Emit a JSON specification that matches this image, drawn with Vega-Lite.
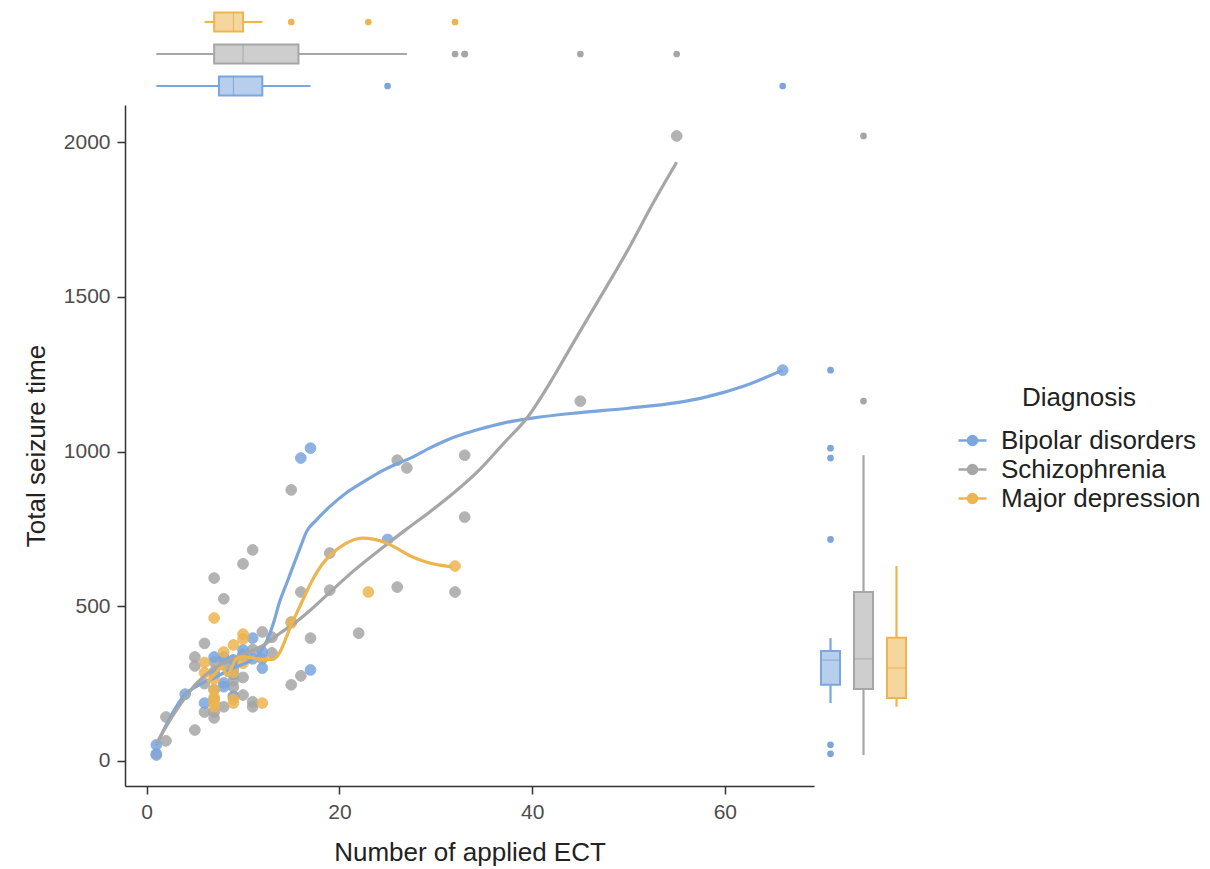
{
  "$schema": "https://vega.github.io/schema/vega-lite/v6.json",
  "background": "white",
  "padding": {"left": 23, "top": 6, "right": 5, "bottom": 3},
  "config": {
    "font": "Liberation Sans",
    "view": {"stroke": null},
    "axis": {"grid": false, "domainColor": "#333333", "tickColor": "#333333", "domainWidth": 1.5, "tickWidth": 1.5, "labelColor": "#4d4d4d", "titleColor": "#222222", "labelFontSize": 21, "titleFontSize": 26, "titleFontWeight": "normal", "tickSize": 8, "labelPadding": 7}
  },
  "datasets": {
    "pts": [
      {"Diagnosis": "Schizophrenia", "ECT": 1, "Seizure": 19},
      {"Diagnosis": "Schizophrenia", "ECT": 2, "Seizure": 65},
      {"Diagnosis": "Schizophrenia", "ECT": 2, "Seizure": 142},
      {"Diagnosis": "Schizophrenia", "ECT": 5, "Seizure": 100},
      {"Diagnosis": "Schizophrenia", "ECT": 5, "Seizure": 336},
      {"Diagnosis": "Schizophrenia", "ECT": 5, "Seizure": 307},
      {"Diagnosis": "Schizophrenia", "ECT": 6, "Seizure": 158},
      {"Diagnosis": "Schizophrenia", "ECT": 7, "Seizure": 158},
      {"Diagnosis": "Schizophrenia", "ECT": 7, "Seizure": 139},
      {"Diagnosis": "Schizophrenia", "ECT": 7, "Seizure": 288},
      {"Diagnosis": "Schizophrenia", "ECT": 7, "Seizure": 591},
      {"Diagnosis": "Schizophrenia", "ECT": 8, "Seizure": 524},
      {"Diagnosis": "Schizophrenia", "ECT": 8, "Seizure": 175},
      {"Diagnosis": "Schizophrenia", "ECT": 9, "Seizure": 239},
      {"Diagnosis": "Schizophrenia", "ECT": 10, "Seizure": 213},
      {"Diagnosis": "Schizophrenia", "ECT": 10, "Seizure": 637},
      {"Diagnosis": "Schizophrenia", "ECT": 11, "Seizure": 682},
      {"Diagnosis": "Schizophrenia", "ECT": 11, "Seizure": 191},
      {"Diagnosis": "Schizophrenia", "ECT": 11, "Seizure": 175},
      {"Diagnosis": "Schizophrenia", "ECT": 12, "Seizure": 417},
      {"Diagnosis": "Schizophrenia", "ECT": 13, "Seizure": 400},
      {"Diagnosis": "Schizophrenia", "ECT": 13, "Seizure": 349},
      {"Diagnosis": "Schizophrenia", "ECT": 15, "Seizure": 876},
      {"Diagnosis": "Schizophrenia", "ECT": 15, "Seizure": 449},
      {"Diagnosis": "Schizophrenia", "ECT": 15, "Seizure": 246},
      {"Diagnosis": "Schizophrenia", "ECT": 16, "Seizure": 546},
      {"Diagnosis": "Schizophrenia", "ECT": 16, "Seizure": 275},
      {"Diagnosis": "Schizophrenia", "ECT": 17, "Seizure": 397},
      {"Diagnosis": "Schizophrenia", "ECT": 19, "Seizure": 552},
      {"Diagnosis": "Schizophrenia", "ECT": 19, "Seizure": 672},
      {"Diagnosis": "Schizophrenia", "ECT": 22, "Seizure": 413},
      {"Diagnosis": "Schizophrenia", "ECT": 26, "Seizure": 972},
      {"Diagnosis": "Schizophrenia", "ECT": 26, "Seizure": 562},
      {"Diagnosis": "Schizophrenia", "ECT": 27, "Seizure": 947},
      {"Diagnosis": "Schizophrenia", "ECT": 32, "Seizure": 546},
      {"Diagnosis": "Schizophrenia", "ECT": 33, "Seizure": 988},
      {"Diagnosis": "Schizophrenia", "ECT": 33, "Seizure": 788},
      {"Diagnosis": "Schizophrenia", "ECT": 45, "Seizure": 1163},
      {"Diagnosis": "Schizophrenia", "ECT": 55, "Seizure": 2020},
      {"Diagnosis": "Schizophrenia", "ECT": 8, "Seizure": 330},
      {"Diagnosis": "Schizophrenia", "ECT": 9, "Seizure": 300},
      {"Diagnosis": "Schizophrenia", "ECT": 9, "Seizure": 326},
      {"Diagnosis": "Schizophrenia", "ECT": 7, "Seizure": 320},
      {"Diagnosis": "Schizophrenia", "ECT": 8, "Seizure": 310},
      {"Diagnosis": "Schizophrenia", "ECT": 9, "Seizure": 210},
      {"Diagnosis": "Schizophrenia", "ECT": 10, "Seizure": 270},
      {"Diagnosis": "Schizophrenia", "ECT": 7, "Seizure": 200},
      {"Diagnosis": "Schizophrenia", "ECT": 7, "Seizure": 230},
      {"Diagnosis": "Schizophrenia", "ECT": 6, "Seizure": 250},
      {"Diagnosis": "Schizophrenia", "ECT": 9, "Seizure": 260},
      {"Diagnosis": "Schizophrenia", "ECT": 12, "Seizure": 330},
      {"Diagnosis": "Schizophrenia", "ECT": 10, "Seizure": 340},
      {"Diagnosis": "Schizophrenia", "ECT": 11, "Seizure": 360},
      {"Diagnosis": "Schizophrenia", "ECT": 6, "Seizure": 380},
      {"Diagnosis": "Bipolar disorders", "ECT": 66, "Seizure": 1263},
      {"Diagnosis": "Bipolar disorders", "ECT": 17, "Seizure": 1011},
      {"Diagnosis": "Bipolar disorders", "ECT": 16, "Seizure": 979},
      {"Diagnosis": "Bipolar disorders", "ECT": 25, "Seizure": 716},
      {"Diagnosis": "Bipolar disorders", "ECT": 17, "Seizure": 294},
      {"Diagnosis": "Bipolar disorders", "ECT": 1, "Seizure": 52},
      {"Diagnosis": "Bipolar disorders", "ECT": 1, "Seizure": 23},
      {"Diagnosis": "Bipolar disorders", "ECT": 4, "Seizure": 216},
      {"Diagnosis": "Bipolar disorders", "ECT": 6, "Seizure": 187},
      {"Diagnosis": "Bipolar disorders", "ECT": 7, "Seizure": 336},
      {"Diagnosis": "Bipolar disorders", "ECT": 8, "Seizure": 336},
      {"Diagnosis": "Bipolar disorders", "ECT": 9, "Seizure": 326},
      {"Diagnosis": "Bipolar disorders", "ECT": 10, "Seizure": 359},
      {"Diagnosis": "Bipolar disorders", "ECT": 11, "Seizure": 397},
      {"Diagnosis": "Bipolar disorders", "ECT": 12, "Seizure": 352},
      {"Diagnosis": "Bipolar disorders", "ECT": 8, "Seizure": 252},
      {"Diagnosis": "Bipolar disorders", "ECT": 8, "Seizure": 240},
      {"Diagnosis": "Bipolar disorders", "ECT": 9, "Seizure": 207},
      {"Diagnosis": "Bipolar disorders", "ECT": 10, "Seizure": 345},
      {"Diagnosis": "Bipolar disorders", "ECT": 11, "Seizure": 330},
      {"Diagnosis": "Bipolar disorders", "ECT": 12, "Seizure": 300},
      {"Diagnosis": "Bipolar disorders", "ECT": 9, "Seizure": 280},
      {"Diagnosis": "Bipolar disorders", "ECT": 7, "Seizure": 280},
      {"Diagnosis": "Major depression", "ECT": 32, "Seizure": 630},
      {"Diagnosis": "Major depression", "ECT": 23, "Seizure": 546},
      {"Diagnosis": "Major depression", "ECT": 15, "Seizure": 446},
      {"Diagnosis": "Major depression", "ECT": 7, "Seizure": 462},
      {"Diagnosis": "Major depression", "ECT": 10, "Seizure": 410},
      {"Diagnosis": "Major depression", "ECT": 10, "Seizure": 394},
      {"Diagnosis": "Major depression", "ECT": 9, "Seizure": 375},
      {"Diagnosis": "Major depression", "ECT": 8, "Seizure": 352},
      {"Diagnosis": "Major depression", "ECT": 6, "Seizure": 318},
      {"Diagnosis": "Major depression", "ECT": 10, "Seizure": 316},
      {"Diagnosis": "Major depression", "ECT": 6, "Seizure": 285},
      {"Diagnosis": "Major depression", "ECT": 9, "Seizure": 285},
      {"Diagnosis": "Major depression", "ECT": 7, "Seizure": 265},
      {"Diagnosis": "Major depression", "ECT": 7, "Seizure": 230},
      {"Diagnosis": "Major depression", "ECT": 7, "Seizure": 205},
      {"Diagnosis": "Major depression", "ECT": 7, "Seizure": 190},
      {"Diagnosis": "Major depression", "ECT": 7, "Seizure": 175},
      {"Diagnosis": "Major depression", "ECT": 9, "Seizure": 187},
      {"Diagnosis": "Major depression", "ECT": 12, "Seizure": 187},
      {"Diagnosis": "Major depression", "ECT": 9, "Seizure": 200}
    ],
    "curves": [
      {"Diagnosis": "Bipolar disorders", "ECT": 1, "Seizure": 50},
      {"Diagnosis": "Bipolar disorders", "ECT": 2, "Seizure": 115},
      {"Diagnosis": "Bipolar disorders", "ECT": 3, "Seizure": 172},
      {"Diagnosis": "Bipolar disorders", "ECT": 4, "Seizure": 215},
      {"Diagnosis": "Bipolar disorders", "ECT": 5, "Seizure": 238},
      {"Diagnosis": "Bipolar disorders", "ECT": 6, "Seizure": 255},
      {"Diagnosis": "Bipolar disorders", "ECT": 7, "Seizure": 268},
      {"Diagnosis": "Bipolar disorders", "ECT": 8, "Seizure": 285},
      {"Diagnosis": "Bipolar disorders", "ECT": 9, "Seizure": 300},
      {"Diagnosis": "Bipolar disorders", "ECT": 10, "Seizure": 313},
      {"Diagnosis": "Bipolar disorders", "ECT": 11, "Seizure": 328},
      {"Diagnosis": "Bipolar disorders", "ECT": 11.7, "Seizure": 348},
      {"Diagnosis": "Bipolar disorders", "ECT": 12.5, "Seizure": 390},
      {"Diagnosis": "Bipolar disorders", "ECT": 13.2, "Seizure": 450},
      {"Diagnosis": "Bipolar disorders", "ECT": 13.8, "Seizure": 515},
      {"Diagnosis": "Bipolar disorders", "ECT": 14.5, "Seizure": 572},
      {"Diagnosis": "Bipolar disorders", "ECT": 15.2, "Seizure": 630},
      {"Diagnosis": "Bipolar disorders", "ECT": 16, "Seizure": 695},
      {"Diagnosis": "Bipolar disorders", "ECT": 16.6, "Seizure": 742},
      {"Diagnosis": "Bipolar disorders", "ECT": 17.5, "Seizure": 775},
      {"Diagnosis": "Bipolar disorders", "ECT": 19, "Seizure": 822},
      {"Diagnosis": "Bipolar disorders", "ECT": 20.7, "Seizure": 866},
      {"Diagnosis": "Bipolar disorders", "ECT": 22.5, "Seizure": 902},
      {"Diagnosis": "Bipolar disorders", "ECT": 24.1, "Seizure": 932},
      {"Diagnosis": "Bipolar disorders", "ECT": 25.8, "Seizure": 958},
      {"Diagnosis": "Bipolar disorders", "ECT": 27.6, "Seizure": 982},
      {"Diagnosis": "Bipolar disorders", "ECT": 29.3, "Seizure": 1010},
      {"Diagnosis": "Bipolar disorders", "ECT": 31, "Seizure": 1035},
      {"Diagnosis": "Bipolar disorders", "ECT": 33, "Seizure": 1058},
      {"Diagnosis": "Bipolar disorders", "ECT": 34.5, "Seizure": 1072},
      {"Diagnosis": "Bipolar disorders", "ECT": 37, "Seizure": 1092},
      {"Diagnosis": "Bipolar disorders", "ECT": 40, "Seizure": 1108},
      {"Diagnosis": "Bipolar disorders", "ECT": 45, "Seizure": 1126},
      {"Diagnosis": "Bipolar disorders", "ECT": 50, "Seizure": 1140},
      {"Diagnosis": "Bipolar disorders", "ECT": 55, "Seizure": 1158},
      {"Diagnosis": "Bipolar disorders", "ECT": 58, "Seizure": 1176},
      {"Diagnosis": "Bipolar disorders", "ECT": 62, "Seizure": 1212},
      {"Diagnosis": "Bipolar disorders", "ECT": 66, "Seizure": 1263},
      {"Diagnosis": "Schizophrenia", "ECT": 1, "Seizure": 55},
      {"Diagnosis": "Schizophrenia", "ECT": 2, "Seizure": 110},
      {"Diagnosis": "Schizophrenia", "ECT": 3, "Seizure": 160},
      {"Diagnosis": "Schizophrenia", "ECT": 4, "Seizure": 205},
      {"Diagnosis": "Schizophrenia", "ECT": 5, "Seizure": 245},
      {"Diagnosis": "Schizophrenia", "ECT": 6, "Seizure": 275},
      {"Diagnosis": "Schizophrenia", "ECT": 7, "Seizure": 298},
      {"Diagnosis": "Schizophrenia", "ECT": 8.6, "Seizure": 326},
      {"Diagnosis": "Schizophrenia", "ECT": 10, "Seizure": 345},
      {"Diagnosis": "Schizophrenia", "ECT": 12, "Seizure": 372},
      {"Diagnosis": "Schizophrenia", "ECT": 13.8, "Seizure": 412},
      {"Diagnosis": "Schizophrenia", "ECT": 15.5, "Seizure": 449},
      {"Diagnosis": "Schizophrenia", "ECT": 17, "Seizure": 488},
      {"Diagnosis": "Schizophrenia", "ECT": 19, "Seizure": 545},
      {"Diagnosis": "Schizophrenia", "ECT": 21.5, "Seizure": 615},
      {"Diagnosis": "Schizophrenia", "ECT": 24.5, "Seizure": 690},
      {"Diagnosis": "Schizophrenia", "ECT": 27, "Seizure": 750},
      {"Diagnosis": "Schizophrenia", "ECT": 29.3, "Seizure": 803},
      {"Diagnosis": "Schizophrenia", "ECT": 32, "Seizure": 870},
      {"Diagnosis": "Schizophrenia", "ECT": 34.5, "Seizure": 940},
      {"Diagnosis": "Schizophrenia", "ECT": 37, "Seizure": 1025},
      {"Diagnosis": "Schizophrenia", "ECT": 39.5, "Seizure": 1110},
      {"Diagnosis": "Schizophrenia", "ECT": 42, "Seizure": 1230},
      {"Diagnosis": "Schizophrenia", "ECT": 43.5, "Seizure": 1310},
      {"Diagnosis": "Schizophrenia", "ECT": 45, "Seizure": 1390},
      {"Diagnosis": "Schizophrenia", "ECT": 47, "Seizure": 1495},
      {"Diagnosis": "Schizophrenia", "ECT": 50, "Seizure": 1655},
      {"Diagnosis": "Schizophrenia", "ECT": 52.5, "Seizure": 1800},
      {"Diagnosis": "Schizophrenia", "ECT": 55, "Seizure": 1935},
      {"Diagnosis": "Major depression", "ECT": 6.3, "Seizure": 255},
      {"Diagnosis": "Major depression", "ECT": 7, "Seizure": 278},
      {"Diagnosis": "Major depression", "ECT": 7.9, "Seizure": 304},
      {"Diagnosis": "Major depression", "ECT": 8.3, "Seizure": 276},
      {"Diagnosis": "Major depression", "ECT": 8.8, "Seizure": 300},
      {"Diagnosis": "Major depression", "ECT": 9.3, "Seizure": 330},
      {"Diagnosis": "Major depression", "ECT": 10, "Seizure": 337},
      {"Diagnosis": "Major depression", "ECT": 11, "Seizure": 333},
      {"Diagnosis": "Major depression", "ECT": 12, "Seizure": 328},
      {"Diagnosis": "Major depression", "ECT": 13, "Seizure": 328},
      {"Diagnosis": "Major depression", "ECT": 13.8, "Seizure": 350},
      {"Diagnosis": "Major depression", "ECT": 14.3, "Seizure": 385},
      {"Diagnosis": "Major depression", "ECT": 15, "Seizure": 440},
      {"Diagnosis": "Major depression", "ECT": 15.6, "Seizure": 480},
      {"Diagnosis": "Major depression", "ECT": 16.2, "Seizure": 520},
      {"Diagnosis": "Major depression", "ECT": 17.2, "Seizure": 585},
      {"Diagnosis": "Major depression", "ECT": 18.2, "Seizure": 635},
      {"Diagnosis": "Major depression", "ECT": 19.3, "Seizure": 672},
      {"Diagnosis": "Major depression", "ECT": 20.5, "Seizure": 700},
      {"Diagnosis": "Major depression", "ECT": 21.5, "Seizure": 715},
      {"Diagnosis": "Major depression", "ECT": 22.4, "Seizure": 720},
      {"Diagnosis": "Major depression", "ECT": 23.5, "Seizure": 717},
      {"Diagnosis": "Major depression", "ECT": 24.9, "Seizure": 704},
      {"Diagnosis": "Major depression", "ECT": 26.2, "Seizure": 683},
      {"Diagnosis": "Major depression", "ECT": 27.6, "Seizure": 659},
      {"Diagnosis": "Major depression", "ECT": 29, "Seizure": 643},
      {"Diagnosis": "Major depression", "ECT": 30.4, "Seizure": 633},
      {"Diagnosis": "Major depression", "ECT": 31.7, "Seizure": 628}
    ]
  },
  "columns": 2,
  "align": "each",
  "bounds": "flush",
  "spacing": {"row": 3, "column": 0},
  "resolve": {"scale": {"fill": "independent", "stroke": "independent"}, "legend": {"fill": "independent", "stroke": "independent"}},
  "concat": [
    {
      "width": 689,
      "height": 96,
      "data": {"name": "pts"},
      "encoding": {
        "x": {"field": "ECT", "type": "quantitative", "scale": {"domain": [-2.25, 69.25], "nice": false, "zero": false}, "axis": null},
        "y": {"field": "Diagnosis", "type": "nominal", "scale": {"domain": ["Major depression", "Schizophrenia", "Bipolar disorders"], "paddingInner": 0, "paddingOuter": 0}, "axis": null}
      },
      "layer": [
        {
          "transform": [{"filter": {"field": "Diagnosis", "equal": "Major depression"}}],
          "mark": {"type": "boxplot", "extent": 1.5, "size": 19, "ticks": false,
            "box": {"fill": "#EDB54F", "fillOpacity": 0.55, "stroke": "#EDB54F", "strokeWidth": 2},
            "median": {"color": "#E3A93F", "strokeWidth": 2},
            "rule": {"color": "#EDB54F", "strokeWidth": 2.2},
            "outliers": {"color": "#EDB54F", "filled": true, "size": 45, "opacity": 1}}
        },
        {
          "transform": [{"filter": {"field": "Diagnosis", "equal": "Schizophrenia"}}],
          "mark": {"type": "boxplot", "extent": 1.5, "size": 19, "ticks": false,
            "box": {"fill": "#A6A6A6", "fillOpacity": 0.55, "stroke": "#A6A6A6", "strokeWidth": 2},
            "median": {"color": "#999999", "strokeWidth": 2},
            "rule": {"color": "#A6A6A6", "strokeWidth": 2.2},
            "outliers": {"color": "#A6A6A6", "filled": true, "size": 45, "opacity": 1}}
        },
        {
          "transform": [{"filter": {"field": "Diagnosis", "equal": "Bipolar disorders"}}],
          "mark": {"type": "boxplot", "extent": 1.5, "size": 19, "ticks": false,
            "box": {"fill": "#7BA6DD", "fillOpacity": 0.55, "stroke": "#7BA6DD", "strokeWidth": 2},
            "median": {"color": "#6E9AD6", "strokeWidth": 2},
            "rule": {"color": "#7BA6DD", "strokeWidth": 2.2},
            "outliers": {"color": "#7BA6DD", "filled": true, "size": 45, "opacity": 1}}
        }
      ]
    },
    {
      "width": 99,
      "height": 96,
      "data": {"values": [{"a": 0}]},
      "mark": {"type": "text", "text": ""},
      "encoding": {}
    },
    {
      "width": 689,
      "height": 681,
      "encoding": {
        "x": {"field": "ECT", "type": "quantitative", "title": "Number of applied ECT", "scale": {"domain": [-2.25, 69.25], "nice": false, "zero": false}, "axis": {"values": [0, 20, 40, 60], "titlePadding": 17}},
        "y": {"field": "Seizure", "type": "quantitative", "title": "Total seizure time", "scale": {"domain": [-81, 2120], "nice": false, "zero": false}, "axis": {"values": [0, 500, 1000, 1500, 2000], "format": "d", "titlePadding": 14}}
      },
      "layer": [
        {
          "data": {"name": "pts"},
          "mark": {"type": "point", "filled": true, "size": 115, "opacity": 0.85, "strokeWidth": 1},
          "encoding": {
            "fill": {"field": "Diagnosis", "type": "nominal",
              "scale": {"domain": ["Bipolar disorders", "Schizophrenia", "Major depression"], "range": ["#7BA6DD", "#A6A6A6", "#EDB54F"]},
              "legend": {"title": "Diagnosis", "orient": "none", "legendX": 832, "legendY": 280, "padding": 0, "titleAnchor": "middle", "titleAlign": "center", "titleFontSize": 26, "titleFontWeight": "normal", "titleColor": "#222222", "titlePadding": 14, "labelFontSize": 26, "labelColor": "#222222", "labelLimit": 400, "labelOffset": 13, "rowPadding": 0, "symbolType": "M-1,0L1,0M0.32,0A0.32,0.32,0,1,1,-0.32,0A0.32,0.32,0,1,1,0.32,0Z", "symbolSize": 784, "symbolStrokeWidth": 2.5, "symbolOpacity": 1,
                "encode": {"symbols": {"update": {"strokeWidth": {"value": 2.5}, "opacity": {"value": 1}}}}}},
            "stroke": {"field": "Diagnosis", "type": "nominal",
              "scale": {"domain": ["Bipolar disorders", "Schizophrenia", "Major depression"], "range": ["#7BA6DD", "#A6A6A6", "#EDB54F"]},
              "legend": {"title": "Diagnosis", "orient": "none", "legendX": 832, "legendY": 280, "padding": 0, "titleAnchor": "middle", "titleAlign": "center", "titleFontSize": 26, "titleFontWeight": "normal", "titleColor": "#222222", "titlePadding": 14, "labelFontSize": 26, "labelColor": "#222222", "labelLimit": 400, "labelOffset": 13, "rowPadding": 0, "symbolType": "M-1,0L1,0M0.32,0A0.32,0.32,0,1,1,-0.32,0A0.32,0.32,0,1,1,0.32,0Z", "symbolSize": 784, "symbolStrokeWidth": 2.5, "symbolOpacity": 1,
                "encode": {"symbols": {"update": {"strokeWidth": {"value": 2.5}, "opacity": {"value": 1}}}}}}
          }
        },
        {
          "data": {"name": "curves"},
          "mark": {"type": "line", "strokeWidth": 3.2, "interpolate": "monotone"},
          "encoding": {
            "stroke": {"field": "Diagnosis", "type": "nominal",
              "scale": {"domain": ["Bipolar disorders", "Schizophrenia", "Major depression"], "range": ["#7BA6DD", "#A6A6A6", "#EDB54F"]}}
          }
        }
      ]
    },
    {
      "width": 99,
      "height": 681,
      "data": {"name": "pts"},
      "encoding": {
        "x": {"field": "Diagnosis", "type": "nominal", "scale": {"domain": ["Bipolar disorders", "Schizophrenia", "Major depression"], "paddingInner": 0, "paddingOuter": 0}, "axis": null},
        "y": {"field": "Seizure", "type": "quantitative", "scale": {"domain": [-81, 2120], "nice": false, "zero": false}, "axis": null}
      },
      "layer": [
        {
          "transform": [{"filter": {"field": "Diagnosis", "equal": "Bipolar disorders"}}],
          "mark": {"type": "boxplot", "extent": 1.5, "size": 19, "ticks": false,
            "box": {"fill": "#7BA6DD", "fillOpacity": 0.55, "stroke": "#7BA6DD", "strokeWidth": 2},
            "median": {"color": "#6E9AD6", "strokeWidth": 2},
            "rule": {"color": "#7BA6DD", "strokeWidth": 2.2},
            "outliers": {"color": "#7BA6DD", "filled": true, "size": 45, "opacity": 1}}
        },
        {
          "transform": [{"filter": {"field": "Diagnosis", "equal": "Schizophrenia"}}],
          "mark": {"type": "boxplot", "extent": 1.5, "size": 19, "ticks": false,
            "box": {"fill": "#A6A6A6", "fillOpacity": 0.55, "stroke": "#A6A6A6", "strokeWidth": 2},
            "median": {"color": "#999999", "strokeWidth": 2},
            "rule": {"color": "#A6A6A6", "strokeWidth": 2.2},
            "outliers": {"color": "#A6A6A6", "filled": true, "size": 45, "opacity": 1}}
        },
        {
          "transform": [{"filter": {"field": "Diagnosis", "equal": "Major depression"}}],
          "mark": {"type": "boxplot", "extent": 1.5, "size": 19, "ticks": false,
            "box": {"fill": "#EDB54F", "fillOpacity": 0.55, "stroke": "#EDB54F", "strokeWidth": 2},
            "median": {"color": "#E3A93F", "strokeWidth": 2},
            "rule": {"color": "#EDB54F", "strokeWidth": 2.2},
            "outliers": {"color": "#EDB54F", "filled": true, "size": 45, "opacity": 1}}
        }
      ]
    }
  ]
}
